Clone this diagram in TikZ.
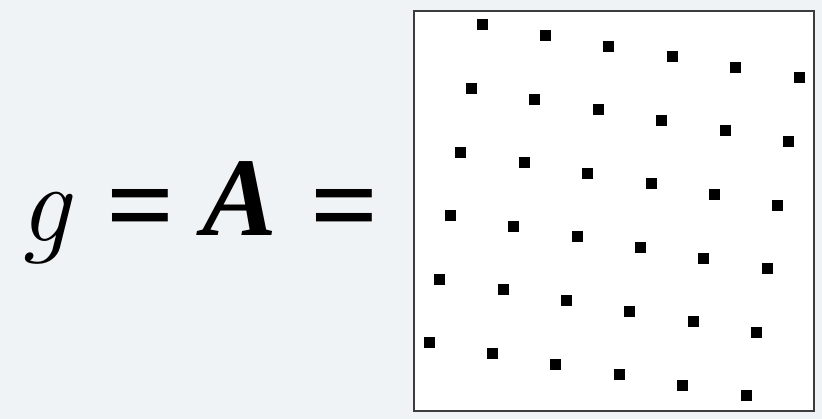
\documentclass[tikz,border=0pt]{standalone}
\usepackage{fontspec}
\newfontfamily\timesl{Liberation Serif}
\definecolor{bgc}{RGB}{240,243,245}
\definecolor{framec}{RGB}{60,60,62}
\begin{document}
\begin{tikzpicture}[x=1pt,y=-1pt,
  sym/.style={inner sep=0pt,outer sep=0pt,font=\fontsize{112}{112}\selectfont},
  eqs/.style={inner sep=0pt,outer sep=0pt,font=\fontsize{120}{120}\selectfont\timesl\bfseries},
  frame/.style={draw=framec,line width=2.5pt,fill=white},
  dot/.style={fill=black}]
\fill[bgc] (0,0) rectangle (822,419);
\useasboundingbox (0,0) rectangle (822,419);
\node[sym,anchor=base] (g) at (45,242) {\itshape g};
\node[eqs,anchor=base] (eq1) at (141,246) {=};
\node[sym,anchor=base] (A) at (240,236) {\timesl\bfseries\itshape A};
\node[eqs,anchor=base] (eq2) at (345,246) {=};
\draw[frame] (414,11) rectangle (814,411);
\foreach \i in {0,...,5}{
  \foreach \j in {0,...,5}{
    \pgfmathsetmacro{\cx}{482+63.4*\j-10.6*\i}
    \pgfmathsetmacro{\cy}{25+10.6*\j+63.6*\i}
    \fill[dot] (\cx-5.5,\cy-5.5) rectangle (\cx+5.5,\cy+5.5);
  }
}
\end{tikzpicture}
\end{document}
